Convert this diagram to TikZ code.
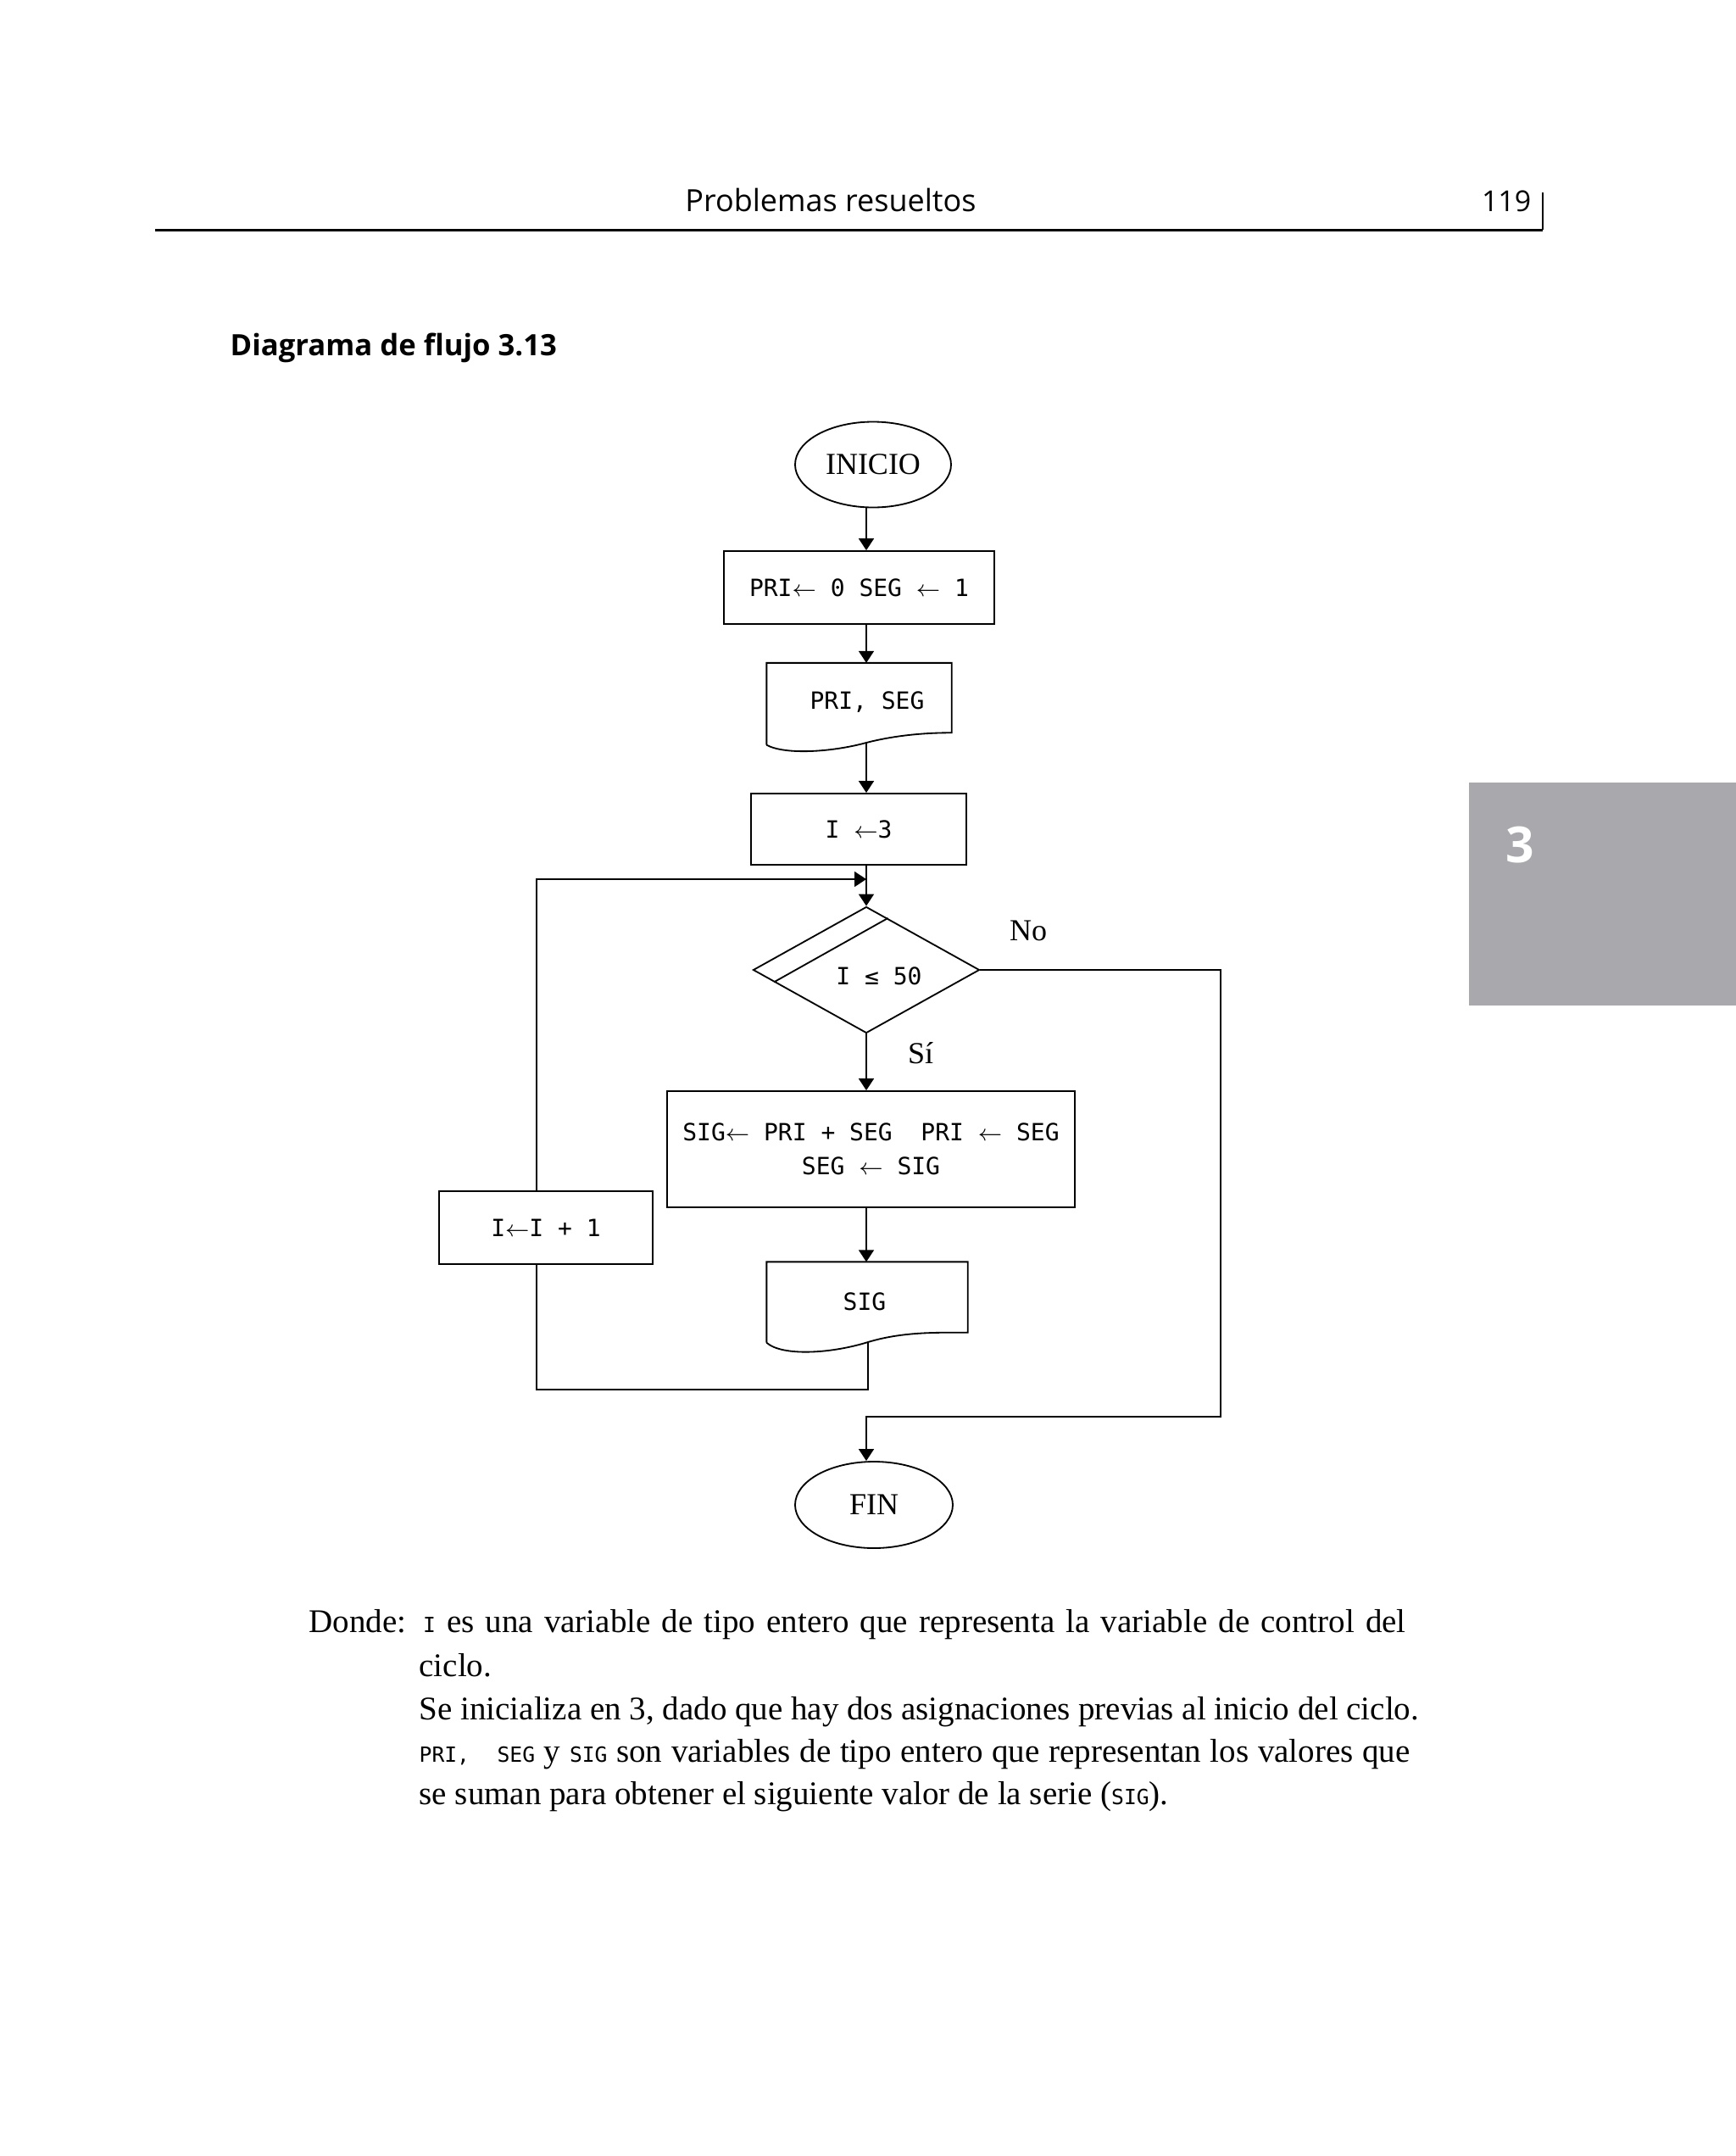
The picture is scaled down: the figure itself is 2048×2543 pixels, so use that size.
\documentclass[tikz,border=0pt]{standalone}
\usepackage{fontspec}
\setmainfont{Liberation Serif}
\newfontfamily\mycodefam{DejaVu Sans Mono}
\newfontfamily\myheadfam{Open Sans}
\usetikzlibrary{shapes.geometric,arrows.meta,calc}
\definecolor{tabgray}{HTML}{A9A8AC}
\newcommand\mycode{\mycodefam\fontsize{8.4}{12}\selectfont}
\newcommand\myserif{\fontsize{10.8}{13}\selectfont}
\newcommand\mybody{\fontsize{11.7}{14}\selectfont}
\newcommand\mybcode[1]{{\mycodefam\fontsize{7.4}{9}\selectfont #1}}
\begin{document}
\begin{tikzpicture}[x=0.3pt,y=-0.3pt,
  lin/.style={line width=0.5pt},
  arr/.style={line width=0.5pt,-{Triangle[length=4.2pt,width=5.4pt]}},
  proc/.style={draw,line width=0.55pt,rectangle,inner sep=0pt,font=\mycode,align=center},
  term/.style={draw,line width=0.55pt,ellipse,inner sep=0pt,font=\myserif},
  docbox/.style={rectangle,inner sep=0pt},
  outline/.style={line width=0.55pt},
  codetxt/.style={inner sep=0pt,font=\mycode},
  lbl/.style={inner sep=0pt,font=\myserif},
  bodyline/.style={inner sep=0pt,anchor=base west,font=\mybody}
]
\useasboundingbox (0,0) rectangle (2048,2543);
\fill[white] (0,0) rectangle (2048,2543);

% header
\node[inner sep=0pt,anchor=base,font=\myheadfam\fontsize{10.8}{12}\selectfont] (head) at (980,249) {Problemas resueltos};
\node[inner sep=0pt,anchor=base east,font=\myheadfam\fontsize{10.2}{12}\selectfont] (pagenum) at (1807,249) {119};
\draw[line width=0.9pt] (183,271) -- (1820,271);
\draw[line width=0.35pt] (1820,227) -- (1820,271);
\node[inner sep=0pt,anchor=base west,font=\myheadfam\bfseries\fontsize{10.4}{12}\selectfont] (title) at (271,419) {Diagrama de flujo 3.13};

% chapter tab
\fill[tabgray] (1733,923) rectangle (2048,1186);
\node[inner sep=0pt,text=white,font=\myheadfam\bfseries\fontsize{17.6}{20}\selectfont] (tabnum) at (1793,997) {3};

% helper coordinates
\coordinate (spine) at (1022,0);
\coordinate (loopx) at (633,0);
\coordinate (merge) at (1022,1037);
\coordinate (loopbot) at (0,1639);
\coordinate (noR) at (1440,1671);

% nodes
\node[term,minimum width=55.2pt,minimum height=30.3pt] (inicio) at (1030,548) {INICIO};
\node[proc,minimum width=95.7pt,minimum height=25.8pt] (box1) at (1013.5,693) {PRI$\leftarrow$ 0 SEG $\leftarrow$ 1};

\node[docbox,minimum width=65.1pt,minimum height=28.65pt] (doc1) at (1013.5,830.25) {};
\node[codetxt] (doc1t) at (1023,828) {PRI, SEG};
\draw[outline] (doc1.south west) -- (doc1.north west) -- (doc1.north east) -- ($(doc1.south east)+(0,-14.4)$) coordinate (doc1R)
  .. controls +(-30,0) and +(35,-9) .. (1022,876) coordinate (doc1out)
  .. controls +(-40,11) and +(22,12) .. (doc1.south west);

\node[proc,minimum width=76.2pt,minimum height=25.2pt] (i3) at (1013,978) {I $\leftarrow$3};

\node[draw,line width=0.55pt,diamond,inner sep=0pt,minimum width=80.1pt,minimum height=44.7pt] (dec) at (1022,1144) {};
\draw[outline] ($(dec.west)!0.19!(dec.south)$) -- ($(dec.north)!0.19!(dec.east)$);
\node[codetxt] (dect) at (1037,1151) {I ≤ 50};
\node[lbl] (nolbl) at (1213,1098) {No};
\node[lbl] (silbl) at (1086,1242) {Sí};

\node[proc,minimum width=144.3pt,minimum height=41.1pt] (big) at (1027.5,1355.5) {SIG$\leftarrow$ PRI + SEG~ PRI $\leftarrow$ SEG\\SEG $\leftarrow$ SIG};
\node[proc,minimum width=75.6pt,minimum height=25.8pt] (inc) at (644,1448) {I$\leftarrow$I + 1};

\node[docbox,minimum width=70.8pt,minimum height=28.2pt] (docsig) at (1023,1536) {};
\node[codetxt] (docsigt) at (1020,1535) {SIG};
\draw[outline] (docsig.south west) -- (docsig.north west) -- (docsig.north east) -- ($(docsig.south east)+(0,-12)$)
  .. controls +(-40,0) and +(40,-12) .. (1024,1583) coordinate (sigout)
  .. controls +(-45,14) and +(18,16) .. (docsig.south west);

\node[term,minimum width=55.8pt,minimum height=30.6pt] (fin) at (1031,1775) {FIN};

% connectors
\draw[arr] (inicio.south -| spine) -- (box1.north -| spine);
\draw[arr] (box1.south -| spine) -- (doc1.north -| spine);
\draw[arr] (doc1out) -- (i3.north -| spine);
\draw[arr] (i3.south -| spine) -- (dec.north);
\draw[arr] (dec.south) -- (big.north -| spine);
\draw[arr] (big.south -| spine) -- (docsig.north -| spine);
\draw[lin] (sigout) -- (sigout |- loopbot) -- (loopx |- loopbot) -- (inc.south -| loopx);
\draw[arr] (inc.north -| loopx) -- (loopx |- merge) -- (merge);
\draw[arr] (dec.east) -- (dec.east -| noR) -- (noR) -- (noR -| spine) -- (fin.north -| spine);

% body text
\node[bodyline] (l1) at (364,1925) {\hbox to 388.2pt{Donde: \mybcode{I} es una variable de tipo entero que representa la variable de control del}};
\node[bodyline] (l2) at (494,1977) {ciclo.};
\node[bodyline] (l3) at (494,2028) {Se inicializa en 3, dado que hay dos asignaciones previas al inicio del ciclo.};
\node[bodyline] (l4) at (494,2078) {\hbox to 350.7pt{\mybcode{PRI,~~SEG} y \mybcode{SIG} son variables de tipo entero que representan los valores que}};
\node[bodyline] (l5) at (494,2128) {se suman para obtener el siguiente valor de la serie (\mybcode{SIG}).};
\end{tikzpicture}
\end{document}
